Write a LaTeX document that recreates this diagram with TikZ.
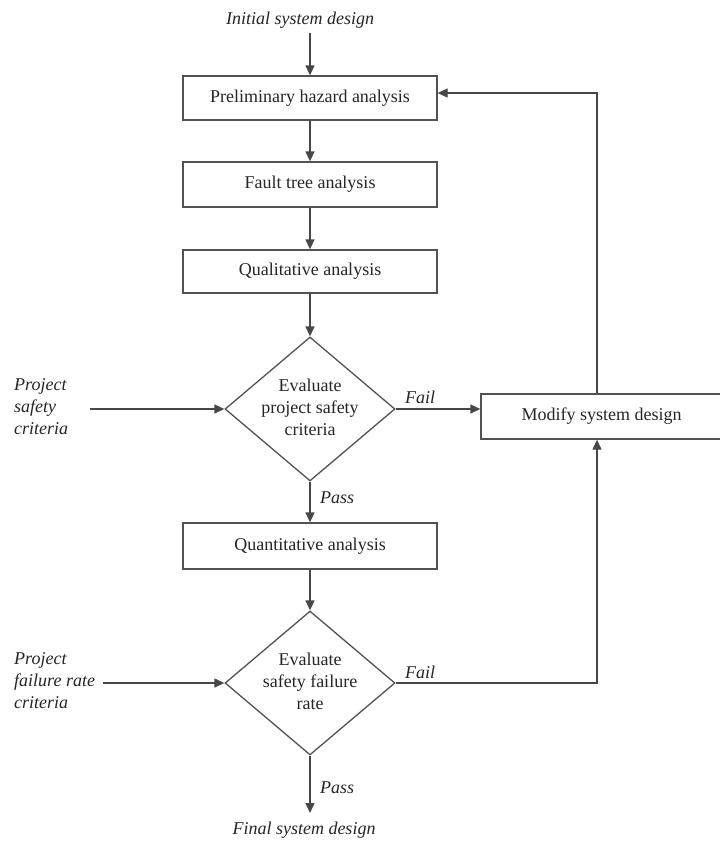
\documentclass[tikz,border=0pt]{standalone}
\usepackage{fontspec}
\setmainfont{Liberation Serif}
\usetikzlibrary{arrows.meta,shapes.geometric,calc}
\begin{document}
\begin{tikzpicture}[x=1pt,y=-1pt,
  every node/.style={font=\fontsize{18}{22}\selectfont, text=black!85},
  conn/.style={draw=black!72, line width=1.3pt},
  arrow/.style={conn, -{Triangle[length=10pt,width=9pt]}},
  stepbox/.style={draw=black!68, line width=1.3pt, minimum width=254pt,
    minimum height=44pt, inner sep=0pt},
  decision/.style={diamond, draw=black!68, line width=1.3pt,
    minimum width=170pt, minimum height=144pt, inner sep=0pt},
  tag/.style={font=\itshape\fontsize{18}{22}\selectfont, inner sep=0pt}
]
\useasboundingbox[fill=white] (0,0) rectangle (720,841);

% main column
\node[tag] (start) at (300,20) {Initial system design};
\node[stepbox] (b1) at (310,98) {Preliminary hazard analysis};
\node[stepbox, minimum height=45pt] (b2) at (310,184.5) {Fault tree analysis};
\node[stepbox, minimum height=43pt] (b3) at (310,271.5) {Qualitative analysis};
\node[decision] (d1) at (310,409) {};
\node[align=center] (d1t) at (310,407) {Evaluate\\project safety\\criteria};
\node[stepbox, minimum height=46pt] (b4) at (310,546) {Quantitative analysis};
\node[decision] (d2) at (310,683) {};
\node[align=center] (d2t) at (310,681) {Evaluate\\safety failure\\rate};
\node[tag] (finish) at (304,830) {Final system design};
\coordinate (endpt) at (310,813);
\coordinate (startpt) at (310,33);

% side inputs
\node[tag, align=left, anchor=west] (psc) at (14,407) {Project\\safety\\criteria};
\coordinate (psc-out) at (90,409);
\node[tag, align=left, anchor=west] (pfr) at (14,681) {Project\\failure rate\\criteria};
\coordinate (pfr-out) at (103,683);

% redesign box (runs off the right edge)
\node[stepbox, minimum width=241pt, minimum height=45pt] (mod) at (601.5,416.5) {Modify system design};
\coordinate (fb) at (597,93);

% outcome labels
\node[tag, anchor=west] (fail1) at (405,397) {Fail};
\node[tag, anchor=west] (fail2) at (405,672) {Fail};
\node[tag, anchor=west] (pass1) at (320,498) {Pass};
\node[tag, anchor=west] (pass2) at (320,788) {Pass};

% flow
\draw[arrow] (startpt) -- (b1.north);
\draw[arrow] (b1) -- (b2);
\draw[arrow] (b2) -- (b3);
\draw[arrow] (b3.south) -- (d1.north);
\draw[arrow] (d1.south) -- (b4.north);
\draw[arrow] (b4.south) -- (d2.north);
\draw[arrow] (d2.south) -- (endpt);
\draw[arrow] (psc-out) -- (d1.west);
\draw[arrow] (pfr-out) -- (d2.west);
\draw[arrow] (d1.east) -- (d1.east -| mod.west);
\draw[arrow] (mod.north -| fb) -- (fb) -- (fb -| b1.east);
\draw[arrow] (d2.east) -- (d2.east -| fb) -- (mod.south -| fb);
\end{tikzpicture}
\end{document}
